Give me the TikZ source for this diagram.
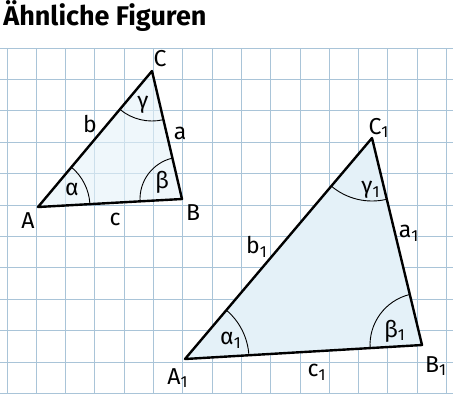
\documentclass[tikz,border=0pt]{standalone}
\usepackage{fontspec}
\setmainfont{Fira Sans}
\usetikzlibrary{angles}
\definecolor{gridblue}{HTML}{A9C4D8}
\definecolor{fillblue}{HTML}{E4F1F8}

\begin{document}
\begin{tikzpicture}[x=0.5pt,y=-0.5pt,font=\fontsize{11.5}{13}\selectfont,
	side/.style={line width=1.2pt,line join=round},
	arc/.style={draw,line width=0.45pt},
	lbl/.style={inner sep=0pt}]
	\useasboundingbox (0,0) rectangle (453,397);
	\foreach \i in {0,...,15}
		\draw[gridblue,line width=0.45pt] ({7+29.3*\i},48) -- ({7+29.3*\i},393);
	\foreach \j in {0,...,11}
		\draw[gridblue,line width=0.45pt] (0,{48+31.4*\j}) -- (453,{48+31.4*\j});
	\node[anchor=base west,inner sep=0pt,font=\fontsize{13.5}{15}\bfseries\selectfont] (title) at (3,25) {Ähnliche Figuren};

	\coordinate (A) at (38,207);
	\coordinate (B) at (182,199);
	\coordinate (C) at (152,71);
	\fill[fillblue,opacity=0.6] (A) -- (B) -- (C) -- cycle;
	\pic[arc,angle radius=26pt] {angle=B--A--C};
	\pic[arc,angle radius=21pt] {angle=C--B--A};
	\pic[arc,angle radius=25pt] {angle=A--C--B};
	\draw[side] (A) -- (B) -- (C) -- cycle;
	\node[lbl] (lA) at (28,221) {A};
	\node[lbl] (lB) at (193,213) {B};
	\node[lbl] (lC) at (160,59) {C};
	\node[lbl] (la) at (180,133) {a};
	\node[lbl] (lb) at (90,124) {b};
	\node[lbl] (lc) at (115,219) {c};
	\node[lbl] (lalpha) at (72,189) {α};
	\node[lbl] (lbeta) at (162,182) {β};
	\node[lbl] (lgamma) at (143,105) {γ};

	\coordinate (A1) at (185,359);
	\coordinate (B1) at (422,345);
	\coordinate (C1) at (372,138);
	\fill[fillblue] (A1) -- (B1) -- (C1) -- cycle;
	\pic[arc,angle radius=32pt] {angle=B1--A1--C1};
	\pic[arc,angle radius=26pt] {angle=C1--B1--A1};
	\pic[arc,angle radius=31.5pt] {angle=A1--C1--B1};
	\draw[side] (A1) -- (B1) -- (C1) -- cycle;
	\node[lbl] (lA1) at (178,378) {A\textsubscript{1}};
	\node[lbl] (lB1) at (436,366) {B\textsubscript{1}};
	\node[lbl] (lC1) at (379,128) {C\textsubscript{1}};
	\node[lbl] (la1) at (409,233) {a\textsubscript{1}};
	\node[lbl] (lb1) at (257,247) {b\textsubscript{1}};
	\node[lbl] (lc1) at (317,372) {c\textsubscript{1}};
	\node[lbl] (lalpha1) at (231,340) {α\textsubscript{1}};
	\node[lbl] (lbeta1) at (395,331) {β\textsubscript{1}};
	\node[lbl] (lgamma1) at (371,190) {γ\textsubscript{1}};
\end{tikzpicture}
\end{document}
